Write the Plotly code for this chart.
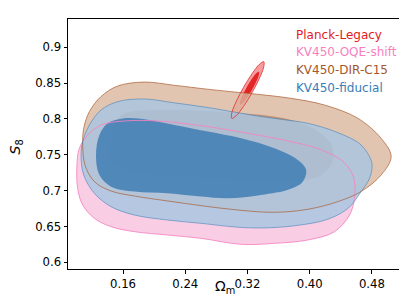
import plotly.graph_objects as go

# ---------------- data: contour vertices ----------------
# Planck-Legacy (outer / inner confidence regions)
planck_outer_x = [0.3260, 0.3149, 0.3053, 0.2998, 0.2997, 0.3052, 0.3148, 0.3259, 0.3354, 0.3410, 0.3410, 0.3356]
planck_outer_y = [0.8370, 0.8176, 0.8044, 0.8008, 0.8078, 0.8236, 0.8439, 0.8632, 0.8764, 0.8800, 0.8730, 0.8573]
planck_inner_x = [0.3259, 0.3195, 0.3139, 0.3106, 0.3105, 0.3137, 0.3192, 0.3257, 0.3313, 0.3346, 0.3347, 0.3315]
planck_inner_y = [0.8407, 0.8295, 0.8218, 0.8197, 0.8238, 0.8330, 0.8448, 0.8561, 0.8638, 0.8659, 0.8618, 0.8526]

# KV450-OQE-shift (outer region)
oqe_outer_x = [0.1008, 0.1039, 0.1146, 0.1317, 0.1618, 0.2046, 0.2690, 0.3333, 0.3760, 0.4100, 0.4404, 0.4533,
               0.4576, 0.4576, 0.4512, 0.4319, 0.3976, 0.3547, 0.3118, 0.2603, 0.2175, 0.1747, 0.1446, 0.1232,
               0.1082, 0.1017]
oqe_outer_y = [0.7358, 0.7591, 0.7776, 0.7916, 0.7972, 0.7972, 0.7893, 0.7776, 0.7684, 0.7590, 0.7428, 0.7266,
               0.7126, 0.6893, 0.6660, 0.6428, 0.6312, 0.6265, 0.6251, 0.6335, 0.6381, 0.6428, 0.6498, 0.6614,
               0.6800, 0.7033]

# KV450-DIR-C15 (outer / inner)
dir_outer_x = [0.1082, 0.1095, 0.1168, 0.1317, 0.1532, 0.1875, 0.2261, 0.2690, 0.3000, 0.3333, 0.3760, 0.4190,
               0.4619, 0.4918, 0.5047, 0.4918, 0.4660, 0.4361, 0.3976, 0.3547, 0.3075, 0.2603, 0.2175, 0.1747,
               0.1446, 0.1232, 0.1111]
dir_outer_y = [0.7637, 0.7870, 0.8103, 0.8312, 0.8460, 0.8515, 0.8470, 0.8415, 0.8380, 0.8344, 0.8288, 0.8195,
               0.8010, 0.7730, 0.7475, 0.7218, 0.6987, 0.6847, 0.6740, 0.6698, 0.6730, 0.6791, 0.6856, 0.6925,
               0.6995, 0.7126, 0.7358]
dir_inner_x = [0.1440, 0.1450, 0.1500, 0.1600, 0.1750, 0.2200, 0.2700, 0.3100, 0.3450, 0.3700, 0.3900, 0.4100,
               0.4260, 0.4310, 0.4270, 0.4150, 0.3950, 0.3500, 0.3000, 0.2500, 0.2000, 0.1700, 0.1520]
dir_inner_y = [0.7450, 0.7750, 0.7960, 0.8070, 0.8110, 0.8125, 0.8110, 0.8080, 0.8050, 0.8005, 0.7940, 0.7830,
               0.7680, 0.7500, 0.7350, 0.7220, 0.7150, 0.7140, 0.7170, 0.7190, 0.7220, 0.7270, 0.7340]

# KV450-fiducial (outer / inner)
fid_outer_x = [0.1060, 0.1082, 0.1168, 0.1317, 0.1532, 0.1875, 0.2261, 0.2690, 0.3118, 0.3400, 0.3700, 0.3976,
               0.4361, 0.4661, 0.4790, 0.4800, 0.4760, 0.4661, 0.4500, 0.4230, 0.3804, 0.3400, 0.3075, 0.2603,
               0.2175, 0.1747, 0.1446, 0.1232, 0.1095]
fid_outer_y = [0.7497, 0.7684, 0.7916, 0.8125, 0.8242, 0.8279, 0.8225, 0.8160, 0.8080, 0.8030, 0.7985, 0.7940,
               0.7810, 0.7637, 0.7420, 0.7300, 0.7150, 0.6987, 0.6760, 0.6600, 0.6510, 0.6480, 0.6490, 0.6544,
               0.6590, 0.6660, 0.6777, 0.6963, 0.7218]
fid_inner_x = [0.1253, 0.1297, 0.1403, 0.1618, 0.1918, 0.2261, 0.2690, 0.3118, 0.3547, 0.3847, 0.3954, 0.3911,
               0.3740, 0.3375, 0.2947, 0.2603, 0.2175, 0.1747, 0.1446, 0.1297]
fid_inner_y = [0.7497, 0.7776, 0.7940, 0.8010, 0.7990, 0.7916, 0.7824, 0.7730, 0.7591, 0.7428, 0.7290, 0.7126,
               0.7020, 0.6940, 0.6893, 0.6917, 0.6963, 0.6987, 0.7056, 0.7218]

legend_labels = ["Planck-Legacy", "KV450-OQE-shift", "KV450-DIR-C15", "KV450-fiducial"]
legend_colors = ["#e41a1c", "#f781bf", "#a65628", "#377eb8"]

x_ticks = [0.16, 0.24, 0.32, 0.40, 0.48]
y_ticks = [0.6, 0.65, 0.7, 0.75, 0.8, 0.85, 0.9]
x_title = "Ω<sub>m</sub>"
y_title = "<i>S</i><sub>8</sub>"

# ---------------- figure ----------------
FONT = "DejaVu Sans"


def closed(xs, ys):
    return list(xs) + [xs[0]], list(ys) + [ys[0]]


def fill_trace(xs, ys, color):
    cx, cy = closed(xs, ys)
    return go.Scatter(x=cx, y=cy, mode="lines", fill="toself", fillcolor=color,
                      line=dict(width=0, shape="spline", smoothing=1.0, color=color),
                      hoverinfo="skip", showlegend=False)


def line_trace(xs, ys, color, width=1.0):
    cx, cy = closed(xs, ys)
    return go.Scatter(x=cx, y=cy, mode="lines",
                      line=dict(width=width, shape="spline", smoothing=1.0, color=color),
                      hoverinfo="skip", showlegend=False)


fig = go.Figure()
# fills (bottom to top)
fig.add_trace(fill_trace(planck_outer_x, planck_outer_y, "rgba(241,140,141,0.85)"))
fig.add_trace(fill_trace(planck_inner_x, planck_inner_y, "rgba(228,26,28,0.92)"))
fig.add_trace(fill_trace(oqe_outer_x, oqe_outer_y, "rgba(248,193,221,0.8)"))
fig.add_trace(fill_trace(dir_outer_x, dir_outer_y, "rgba(217,182,158,0.8)"))
fig.add_trace(fill_trace(dir_inner_x, dir_inner_y, "rgba(180,130,100,0.75)"))
fig.add_trace(fill_trace(fid_outer_x, fid_outer_y, "rgba(170,198,225,0.85)"))
fig.add_trace(fill_trace(fid_inner_x, fid_inner_y, "rgba(62,124,180,0.84)"))
# outlines on top
fig.add_trace(line_trace(oqe_outer_x, oqe_outer_y, "rgba(247,129,191,0.85)"))
fig.add_trace(line_trace(dir_outer_x, dir_outer_y, "rgba(166,86,40,0.65)"))
fig.add_trace(line_trace(fid_outer_x, fid_outer_y, "rgba(55,126,184,0.55)"))
fig.add_trace(line_trace(planck_outer_x, planck_outer_y, "rgba(228,26,28,0.7)"))

# text legend
legend_y = [0.936, 0.8668, 0.7948, 0.7256]
for lab, col, ly in zip(legend_labels, legend_colors, legend_y):
    fig.add_annotation(text=lab, x=0.6714, y=ly, xref="paper", yref="paper",
                       xanchor="left", yanchor="middle", showarrow=False,
                       font=dict(family=FONT, size=12, color=col))

# axis titles
fig.add_annotation(text=x_title, x=0.468, y=-0.028, xref="paper", yref="paper",
                   xanchor="center", yanchor="top", showarrow=False,
                   font=dict(family=FONT, size=14, color="black"))
fig.add_annotation(text=y_title, x=-0.155, y=0.49, xref="paper", yref="paper",
                   xanchor="center", yanchor="middle", showarrow=False, textangle=-90,
                   font=dict(family=FONT, size=14, color="black"))

axis_common = dict(showgrid=False, zeroline=False, showline=True, mirror=True,
                   linecolor="black", linewidth=1, ticks="outside", ticklen=3.5,
                   tickwidth=1, tickcolor="black",
                   tickfont=dict(family=FONT, size=11.7, color="black"))

fig.update_xaxes(range=[0.0893, 0.5212], tickvals=x_ticks,
                 ticktext=[f"{v:.2f}" for v in x_ticks], **axis_common)
fig.update_yaxes(range=[0.5907, 0.9395], tickvals=y_ticks,
                 ticktext=[f"{v:g}" for v in y_ticks], **axis_common)

fig.update_layout(width=407, height=304, autosize=False,
                  margin=dict(l=60, r=11, t=11, b=43, autoexpand=False),
                  plot_bgcolor="white", paper_bgcolor="white",
                  font=dict(family=FONT, color="black"), showlegend=False)

fig.write_html("out.html")
